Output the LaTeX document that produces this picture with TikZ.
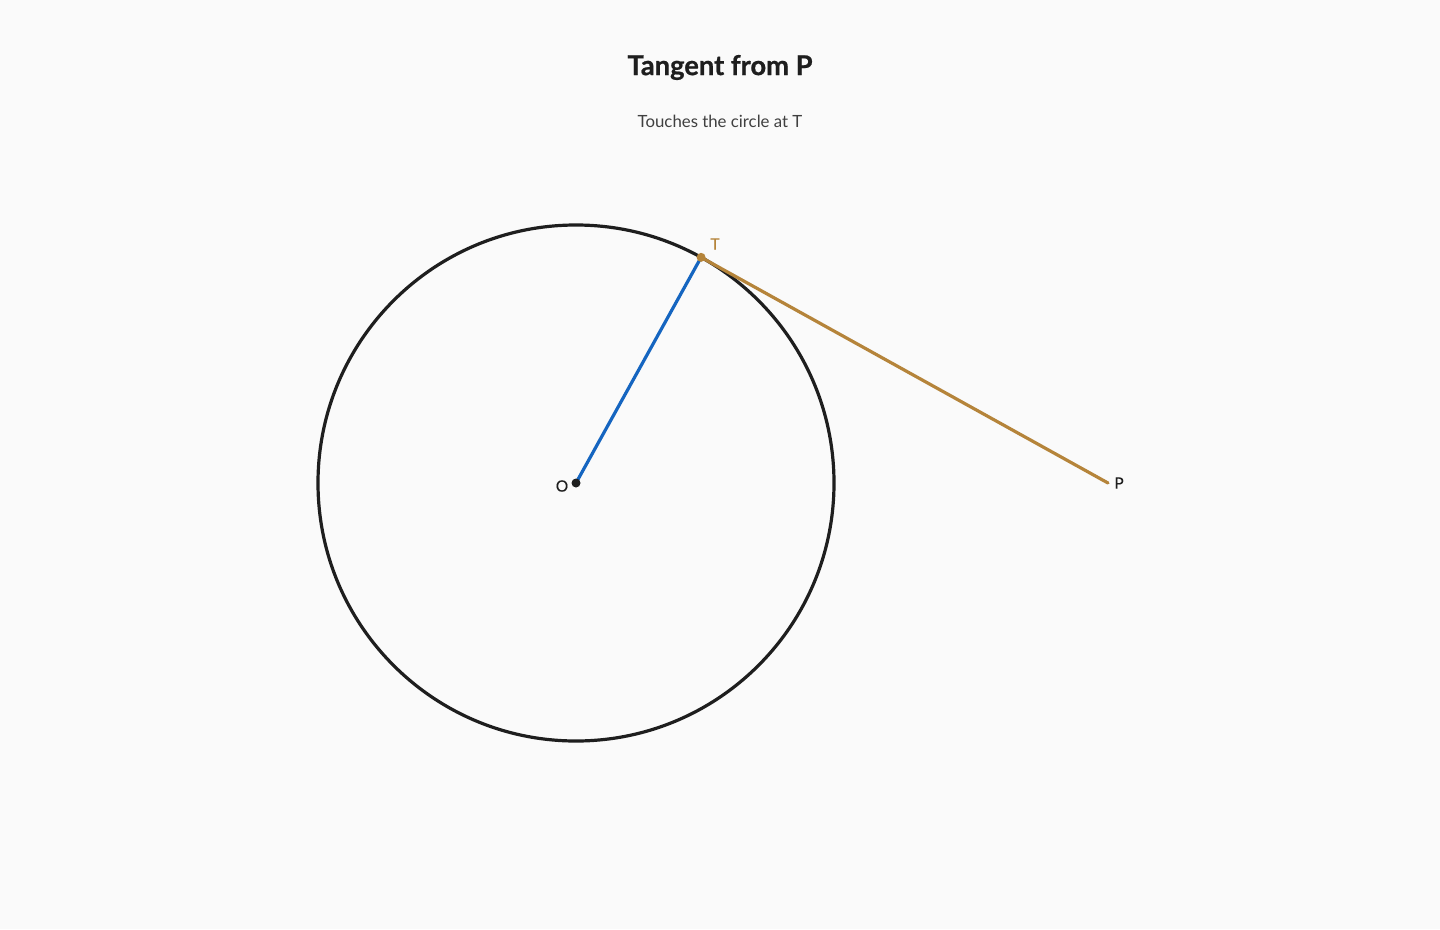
\documentclass[tikz,border=0pt]{standalone}
\usepackage{fontspec}
\setmainfont{Lato}
\usepackage{tikz}
\usetikzlibrary{calc}

\definecolor{bgcol}{HTML}{FAFAFA}
\definecolor{inkcol}{HTML}{1E1E1E}
\definecolor{radcol}{HTML}{1565C0}
\definecolor{tancol}{HTML}{B5843A}

\tikzset{
  ptlabel/.style={font=\fontsize{15.5}{18}\selectfont\addfontfeatures{FakeBold=0.4}, inner sep=0pt},
  dot/.style={circle, inner sep=0pt, minimum size=9pt}
}

\begin{document}
\begin{tikzpicture}[x=1pt,y=-1pt]

\fill[bgcol] (0,0) rectangle (1440,929);
\useasboundingbox (0,0) rectangle (1440,929);

\node[font=\fontsize{27.3}{32}\selectfont\bfseries\addfontfeatures{FakeBold=0.8}, text=inkcol] (title) at (720,67.5) {Tangent from P};
\node[font=\fontsize{16.8}{20}\selectfont, text=inkcol!85] (sub) at (720,121) {Touches the circle at T};

\coordinate (O) at (576,483);
\coordinate (P) at (1108,483);
\coordinate (T) at ($(O)+(61:258 and -258)$);

\draw[inkcol, line width=3.2pt] (O) circle (258);

\draw[radcol, line width=3.2pt, line cap=round] (O)--(T);
\draw[tancol, line width=3.2pt, line cap=round] (T)--(P);

\node[dot, fill=inkcol] (Odot) at (O) {};
\node[dot, fill=tancol] (Tdot) at (T) {};

\node[ptlabel, text=inkcol] (Olab) at (562,486) {O};
\node[ptlabel, text=tancol] (Tlab) at (715,244) {T};
\node[ptlabel, text=inkcol] (Plab) at (1119,483) {P};

\end{tikzpicture}
\end{document}
